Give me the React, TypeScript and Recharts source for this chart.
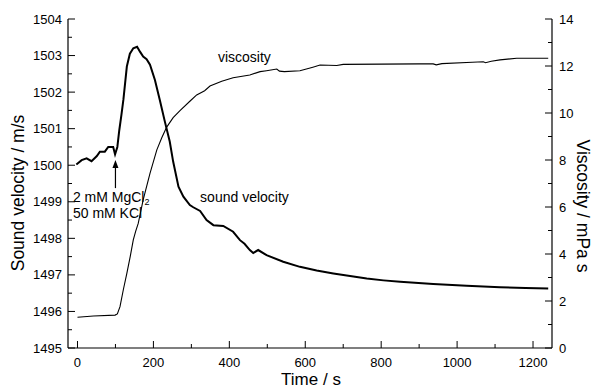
import React from 'react';
import { ComposedChart, Line, XAxis, YAxis, ReferenceDot, Customized } from 'recharts';

const timeTicks = [0, 100, 200, 300, 400, 500, 600, 700, 800, 900, 1000, 1100, 1200];
const velocityTicks = [1495, 1495.5, 1496, 1496.5, 1497, 1497.5, 1498, 1498.5, 1499, 1499.5, 1500, 1500.5, 1501, 1501.5, 1502, 1502.5, 1503, 1503.5, 1504];
const viscosityTicks = [0, 1, 2, 3, 4, 5, 6, 7, 8, 9, 10, 11, 12, 13, 14];

const velocityTime = [-3, 11, 24, 37, 51, 59, 72, 81, 94, 99, 105, 110, 116, 121, 130, 138, 147, 157, 165, 173, 182, 191, 204, 217, 230, 243, 252, 266, 279, 296, 305, 323, 340, 358, 384, 410, 428, 440, 454, 463, 476, 498, 542, 586, 630, 674, 718, 762, 806, 850, 937, 1025, 1113, 1180, 1240];
const velocityValues = [1500.02, 1500.14, 1500.19, 1500.11, 1500.25, 1500.37, 1500.37, 1500.5, 1500.5, 1500.3, 1500.5, 1500.95, 1501.4, 1501.8, 1502.7, 1503.05, 1503.2, 1503.24, 1503.1, 1502.97, 1502.9, 1502.75, 1502.33, 1501.78, 1501.2, 1500.65, 1500.1, 1499.41, 1499.14, 1498.91, 1498.85, 1498.75, 1498.5, 1498.36, 1498.34, 1498.18, 1497.95, 1497.85, 1497.68, 1497.6, 1497.68, 1497.54, 1497.36, 1497.22, 1497.12, 1497.04, 1496.97, 1496.9, 1496.85, 1496.81, 1496.75, 1496.7, 1496.66, 1496.64, 1496.63];

const viscosityTime = [0, 42, 99, 105, 112, 121, 130, 139, 147, 153, 160, 173, 191, 209, 222, 235, 252, 270, 296, 314, 335, 349, 380, 410, 454, 481, 498, 525, 532, 545, 586, 620, 639, 683, 700, 800, 900, 937, 945, 960, 1040, 1069, 1075, 1090, 1113, 1157, 1240];
const viscosityValues = [1.31, 1.36, 1.4, 1.45, 1.76, 2.5, 3.18, 3.9, 4.6, 4.95, 5.3, 6.3, 7.43, 8.43, 8.95, 9.4, 9.8, 10.1, 10.5, 10.77, 10.95, 11.15, 11.35, 11.5, 11.62, 11.76, 11.8, 11.87, 11.78, 11.76, 11.8, 11.95, 12.04, 12.02, 12.07, 12.08, 12.09, 12.09, 12.05, 12.1, 12.16, 12.18, 12.14, 12.2, 12.26, 12.33, 12.33];

const velocityData = velocityTime.map((t, i) => ({ t, v: velocityValues[i] }));
const viscosityData = viscosityTime.map((t, i) => ({ t, eta: viscosityValues[i] }));

const FONT = '"Liberation Sans", Arial, sans-serif';

const BottomTick = (props: any) => {
  const { x, y, payload } = props;
  const major = payload.value % 200 === 0;
  return (
    <g>
      <line x1={x} x2={x} y1={y} y2={y - (major ? 7 : 4)} stroke="#000" strokeWidth={1} />
      {major && (
        <text x={x} y={y + 18.5} textAnchor="middle" fontSize={13} fill="#000" fontFamily={FONT}>
          {payload.value}
        </text>
      )}
    </g>
  );
};

const TopTick = (props: any) => {
  const { x, y, payload } = props;
  const major = payload.value % 200 === 0;
  return <line x1={x} x2={x} y1={y} y2={y + (major ? 7 : 4)} stroke="#000" strokeWidth={1} />;
};

const LeftTick = (props: any) => {
  const { x, y, payload } = props;
  const major = Number.isInteger(payload.value);
  return (
    <g>
      <line x1={x} x2={x + (major ? 7 : 4)} y1={y} y2={y} stroke="#000" strokeWidth={1} />
      {major && (
        <text x={x - 6} y={y + 4.5} textAnchor="end" fontSize={13} fill="#000" fontFamily={FONT}>
          {payload.value}
        </text>
      )}
    </g>
  );
};

const RightTick = (props: any) => {
  const { x, y, payload } = props;
  const major = payload.value % 2 === 0;
  return (
    <g>
      <line x1={x} x2={x - (major ? 7 : 4)} y1={y} y2={y} stroke="#000" strokeWidth={1} />
      {major && (
        <text x={x + 7} y={y + 4.5} textAnchor="start" fontSize={13} fill="#000" fontFamily={FONT}>
          {payload.value}
        </text>
      )}
    </g>
  );
};

const Arrow = (p: any) => {
  const { cx, cy } = p;
  return (
    <g>
      <line x1={cx} x2={cx} y1={cy + 6} y2={cy + 28} stroke="#000" strokeWidth={1.2} />
      <path d={`M${cx},${cy} L${cx - 3},${cy + 8} L${cx + 3},${cy + 8} Z`} fill="#000" />
    </g>
  );
};

const makeText = (content: React.ReactNode, size = 14) => (p: any) => (
  <text x={p.cx} y={p.cy} fontSize={size} fill="#000" fontFamily={FONT} dominantBaseline="central">
    {content}
  </text>
);

const Titles = () => (
  <g fontFamily={FONT} fill="#000">
    <text x={311} y={385} textAnchor="middle" fontSize={17}>Time / s</text>
    <text x={18} y={193} textAnchor="middle" fontSize={17.5} dominantBaseline="central" transform="rotate(-90, 18, 193)">
      Sound velocity / m/s
    </text>
    <text x={583} y={206} textAnchor="middle" fontSize={17.5} dominantBaseline="central" transform="rotate(90, 583, 206)">
      Viscosity / mPa s
    </text>
  </g>
);

export default function App() {
  return (
    <div style={{ position: 'absolute', left: 0, top: 0, background: '#fff' }}>
      <ComposedChart width={593} height={389} margin={{ top: 19, right: 0, bottom: 0, left: 0 }}>
        <XAxis
          xAxisId="bottom"
          type="number"
          dataKey="t"
          domain={[-25, 1250]}
          ticks={timeTicks}
          interval={0}
          orientation="bottom"
          height={41}
          tickSize={0}
          tickMargin={0}
          tickLine={false}
          axisLine={{ stroke: '#000', strokeWidth: 1.2 }}
          tick={<BottomTick />}
          allowDataOverflow
        />
        <XAxis
          xAxisId="top"
          type="number"
          dataKey="t"
          domain={[-25, 1250]}
          ticks={timeTicks}
          interval={0}
          orientation="top"
          height={0}
          tickSize={0}
          tickMargin={0}
          tickLine={false}
          axisLine={{ stroke: '#000', strokeWidth: 1.2 }}
          tick={<TopTick />}
          allowDataOverflow
        />
        <YAxis
          yAxisId="left"
          type="number"
          domain={[1495, 1504]}
          ticks={velocityTicks}
          interval={0}
          width={68}
          tickSize={0}
          tickMargin={0}
          tickLine={false}
          axisLine={{ stroke: '#000', strokeWidth: 1.2 }}
          tick={<LeftTick />}
          allowDataOverflow
        />
        <YAxis
          yAxisId="right"
          orientation="right"
          type="number"
          domain={[0, 14]}
          ticks={viscosityTicks}
          interval={0}
          width={41}
          tickSize={0}
          tickMargin={0}
          tickLine={false}
          axisLine={{ stroke: '#000', strokeWidth: 1.2 }}
          tick={<RightTick />}
          allowDataOverflow
        />
        <Line
          data={viscosityData}
          dataKey="eta"
          xAxisId="bottom"
          yAxisId="right"
          type="linear"
          dot={false}
          stroke="#000"
          strokeWidth={1.1}
          isAnimationActive={false}
        />
        <Line
          data={velocityData}
          dataKey="v"
          xAxisId="bottom"
          yAxisId="left"
          type="linear"
          dot={false}
          stroke="#000"
          strokeWidth={2}
          isAnimationActive={false}
        />
        <ReferenceDot xAxisId="bottom" yAxisId="left" x={100} y={1500.14} r={0} ifOverflow="visible" shape={Arrow} />
        <ReferenceDot xAxisId="bottom" yAxisId="left" x={370} y={1502.96} r={0} ifOverflow="visible" shape={makeText('viscosity')} />
        <ReferenceDot xAxisId="bottom" yAxisId="left" x={323} y={1499.14} r={0} ifOverflow="visible" shape={makeText('sound velocity')} />
        <ReferenceDot
          xAxisId="bottom"
          yAxisId="left"
          x={-12}
          y={1499.14}
          r={0}
          ifOverflow="visible"
          shape={makeText(<>2 mM MgCl<tspan fontSize={9} dy={5}>2</tspan></>)}
        />
        <ReferenceDot xAxisId="bottom" yAxisId="left" x={-12} y={1498.68} r={0} ifOverflow="visible" shape={makeText('50 mM KCl')} />
        <Customized component={Titles} />
      </ComposedChart>
    </div>
  );
}
